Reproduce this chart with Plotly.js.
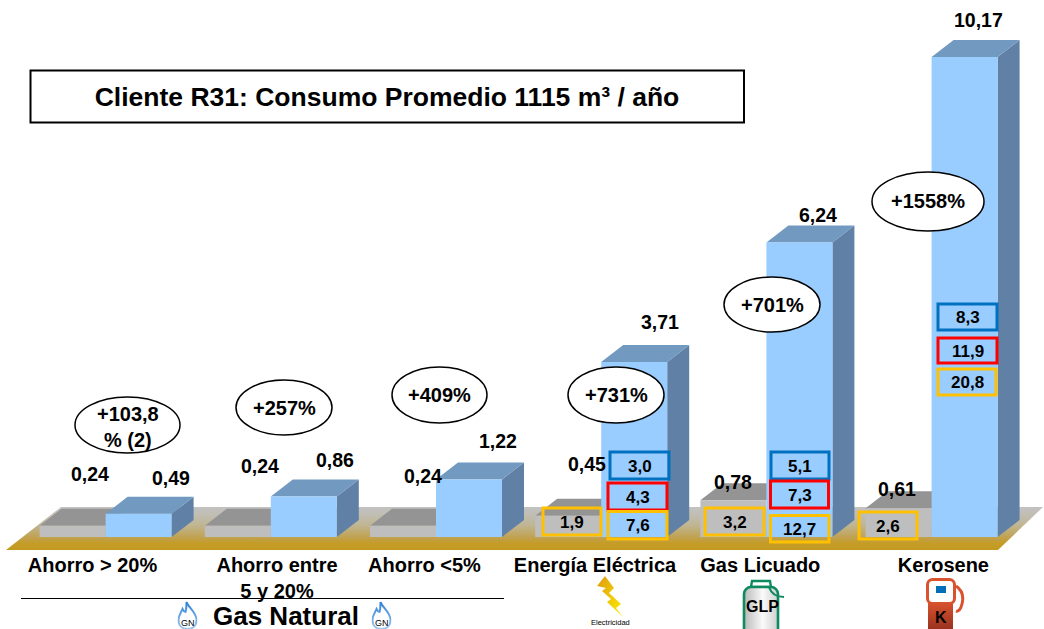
<!DOCTYPE html>
<html><head><meta charset="utf-8">
<script src="https://cdn.plot.ly/plotly-3.0.1.min.js"></script>
<style>html,body{margin:0;padding:0;background:#fff}#c{width:1044px;height:629px}</style>
</head><body><div id="c"></div>
<script>
// ---------- data ----------
const categories = ['Ahorro > 20%','Ahorro entre<br>5 y 20%','Ahorro <5%','Energía Eléctrica','Gas Licuado','Kerosene'];
const greyValues = [0.24,0.24,0.24,0.45,0.78,0.61];
const blueValues = [0.49,0.86,1.22,3.71,6.24,10.17];
const increases  = ['+103,8<br>% (2)','+257%','+409%','+731%','+701%','+1558%'];
const boxValues  = ['3,0','4,3','7,6','1,9','3,2','5,1','7,3','12,7','2,6','8,3','11,9','20,8'];
const boxKinds   = ['b','r','g','g','g','b','r','g','g','b','r','g'];

// ---------- layout geometry (page pixels) ----------
const W=1044,H=629,plotBottom=550,baseY=537,pxPerUnit=47.2,firstX=105.6,pitch=165.2;
const depthX=22/pitch, depthY=17/pxPerUnit, barW=66/pitch;
const val=py=>(baseY-py)/pxPerUnit, idx=px=>(px-firstX)/pitch;
const PX=px=>px/W, PY=py=>(plotBottom-py)/plotBottom;
const font='"Liberation Sans", Arial, sans-serif';
const indices=categories.map((_,i)=>i);
const tickCentersPx=[92.5,277,424.5,595,760.3,943.4];
const greyLabelPx=[[90,474],[260,466],[423,476],[587,464],[733,482],[897,489]];
const blueLabelPx=[[171,478],[335,460],[498,441],[660,322],[818,215],[978,20]];
const ellipsePx=[[75,180,397,453],[236,332,380,435],[392,487,367,423],[568,664,367,423],[724,820,277,332],[872,984,172,231]];
const ellipseTextShift=[2,0,0,0,0,0];
const boxPx=[[610,669,452,479],[608,667,483,510],[608,667,511.5,539],[543,601,508,535],[705,764,508,535],
             [771,829,452,479],[770.5,828.5,481,508],[770.5,829,515.5,542],[859,917,512,539],
             [938,997,304,330],[938,997,338,363],[938,996,369,395]];
const boxColor={b:'#0070C0',r:'#FF0000',g:'#FFC000'};

// depth faces derived from the values through the axis scale
function face(vals,off,kind){
  const xs=[],ys=[];
  vals.forEach((v,i)=>{
    const x0=i+off,x1=x0+barW;
    if(kind==='top'){xs.push(x0,x0+depthX,x1+depthX,x1,x0,null);ys.push(v,v+depthY,v+depthY,v,v,null);}
    else{xs.push(x1,x1+depthX,x1+depthX,x1,x1,null);ys.push(0,depthY,v+depthY,v,0,null);}
  });
  return {x:xs,y:ys};
}
const poly=(f,color,z)=>({type:'scatter',mode:'none',x:f.x,y:f.y,fill:'toself',fillcolor:color,hoverinfo:'skip',showlegend:false,zorder:z});
const bar=(vals,off,color,z,name)=>({type:'bar',name,x:indices,y:vals,width:barW,offset:off,marker:{color,line:{width:0}},hoverinfo:'x+y',showlegend:false,zorder:z});

const floorTrace={type:'scatter',mode:'none',hoverinfo:'skip',showlegend:false,zorder:0,
  x:[idx(6),idx(998),idx(1043),idx(61),idx(6)],
  y:[val(550),val(550),val(507),val(507),val(550)],
  fill:'toself',
  fillgradient:{type:'vertical',colorscale:[[0,'#C39A1F'],[0.16,'#C49C28'],[0.3,'#C0A252'],[0.58,'#C0B693'],[0.81,'#C0BDB2'],[1,'#C2C2C2']]}};

const traces=[
  floorTrace,
  poly(face(greyValues,-barW,'top'),'#949494',1),
  bar(greyValues,-barW,'#BEBEBE',2,'grey'),
  poly(face(blueValues,0,'side'),'#6180A5',3),
  poly(face(blueValues,0,'top'),'#7299C0',3),
  bar(blueValues,0,'#99CCFF',4,'blue')
];

// ---------- annotations and shapes ----------
const bold=(size)=>({family:font,size,color:'#000'});
const note=(text,px,py,size,extra)=>Object.assign({text,x:PX(px),y:PY(py),xref:'paper',yref:'paper',xanchor:'center',yanchor:'middle',showarrow:false,font:bold(size)},extra||{});
const B=t=>'<b>'+t+'</b>';
const fmt=(v)=>v.toFixed(2).replace('.',',');
const annotations=[];
greyValues.forEach((v,i)=>annotations.push(note(B(fmt(v)),greyLabelPx[i][0],greyLabelPx[i][1],19.5)));
blueValues.forEach((v,i)=>annotations.push(note(B(fmt(v)),blueLabelPx[i][0],blueLabelPx[i][1],19.5)));
increases.forEach((t,i)=>{const e=ellipsePx[i];
  annotations.push(note(t.split('<br>').map(B).join('<br>'),(e[0]+e[1])/2,(e[2]+e[3])/2+ellipseTextShift[i],20));});
boxValues.forEach((t,i)=>{const b=boxPx[i];annotations.push(note(B(t),(b[0]+b[1])/2,(b[2]+b[3])/2+0.5,17));});
annotations.push(note(B('Gas Natural'),285.5,615.5,26));
annotations.push(note('GN',187.5,623,9),note('GN',381.5,623,9));
annotations.push(note('Electricidad',610,622.5,7.5));
annotations.push(note(B('GLP'),762,607,16),note(B('K'),940.5,617,16));

const shapes=[
  {type:'rect',xref:'paper',yref:'paper',x0:PX(30.5),x1:PX(744),y0:PY(70.5),y1:PY(122.5),line:{color:'#000',width:2},fillcolor:'#fff'},
  {type:'line',xref:'paper',yref:'paper',x0:PX(21),x1:PX(504),y0:PY(598.5),y1:PY(598.5),line:{color:'#000',width:1}}
];
ellipsePx.forEach(e=>shapes.push({type:'circle',xref:'paper',yref:'paper',x0:PX(e[0]),x1:PX(e[1]),y0:PY(e[2]),y1:PY(e[3]),line:{color:'#000',width:1.5},fillcolor:'#fff'}));
boxPx.forEach((b,i)=>shapes.push({type:'rect',xref:'paper',yref:'paper',x0:PX(b[0]),x1:PX(b[1]),y0:PY(b[2]),y1:PY(b[3]),line:{color:boxColor[boxKinds[i]],width:3},fillcolor:'rgba(0,0,0,0)'}));

// ---------- icons (text on them stays real text above) ----------
const svg=(w,h,body)=>'data:image/svg+xml;charset=utf-8,'+encodeURIComponent('<svg xmlns="http://www.w3.org/2000/svg" width="'+w+'" height="'+h+'" viewBox="0 0 '+w+' '+h+'">'+body+'</svg>');
const flame=svg(20,28,'<defs><linearGradient id="f" x1="0" y1="0" x2="0" y2="1"><stop offset="0" stop-color="#2F80D6"/><stop offset="1" stop-color="#9CC8F0"/></linearGradient></defs><path d="M9 1 C11 7 19 11 19 19 C19 25 15 28 10 28 C5 28 1 25 1 19 C1 14 4 11 5 8 C6 10 7 11 8 11 C9 8 9 4 9 1 Z" fill="#fff" stroke="url(#f)" stroke-width="2"/>');
const bolt=svg(40,50,'<defs><linearGradient id="l" x1="0" y1="0" x2="1" y2="1"><stop offset="0" stop-color="#DE9A10"/><stop offset="1" stop-color="#FFF000"/></linearGradient></defs><path d="M0 10 L8 0 L17 12 L12 17 L24 28 L19 32 L26 41 L10 26 L14 23 L5 15 L9 12 Z" fill="url(#l)"/>');
const glp=svg(44,54,'<defs><linearGradient id="g" x1="0" y1="0" x2="1" y2="0"><stop offset="0" stop-color="#B8B8B8"/><stop offset="0.55" stop-color="#FAFAFA"/><stop offset="1" stop-color="#CFCFCF"/></linearGradient></defs><path d="M10 3 H28 L29 9 H9 Z" fill="#fff" stroke="#0E8A60" stroke-width="2.4"/><rect x="2" y="9" width="34" height="50" rx="7" fill="url(#g)" stroke="#0E8A60" stroke-width="2.6"/><path d="M27 9 C29 15 34 19 42 19" fill="none" stroke="#0E8A60" stroke-width="2.2"/>');
const pump=svg(40,54,'<defs><linearGradient id="p" x1="0" y1="0" x2="0" y2="1"><stop offset="0" stop-color="#D9532F"/><stop offset="1" stop-color="#8E2C1B"/></linearGradient></defs><path d="M30 8 C36 12 38 18 36 26 C35 30 33 34 30 33" fill="none" stroke="#D9532F" stroke-width="3"/><rect x="1.5" y="1.5" width="27" height="24" rx="5" fill="#fff" stroke="#D9532F" stroke-width="3"/><rect x="2" y="24" width="25" height="32" fill="url(#p)"/><rect x="10" y="8" width="10" height="7" fill="#0070B8"/>');
const img=(source,x,y,w,h)=>({source,xref:'paper',yref:'paper',x:PX(x),y:PY(y),sizex:w/W,sizey:h/plotBottom,xanchor:'left',yanchor:'top',sizing:'stretch',layer:'above'});
const images=[img(flame,177.5,601,20,28),img(flame,371.5,601,20,28),img(bolt,597,576,40,50),img(glp,742,578,44,54),img(pump,926,578,40,54)];

const layout={
  width:W,height:H,margin:{l:0,r:0,t:0,b:H-plotBottom,pad:0},
  paper_bgcolor:'#fff',plot_bgcolor:'rgba(0,0,0,0)',barmode:'overlay',showlegend:false,
  title:{text:'<b>Cliente R31: Consumo Promedio 1115 m³ / año</b>',x:387/W,xanchor:'center',xref:'container',y:1-96.5/H,yref:'container',yanchor:'middle',font:bold(26.5)},
  xaxis:{range:[idx(0),idx(W)],tickvals:tickCentersPx.map(idx),ticktext:categories.map(B),tickfont:bold(20),ticklen:0,ticklabelstandoff:1,
         showgrid:false,zeroline:false,showline:false,fixedrange:true},
  yaxis:{range:[val(plotBottom),val(0)],visible:false,showgrid:false,zeroline:false,fixedrange:true},
  shapes,annotations,images
};
Plotly.newPlot('c',traces,layout,{displayModeBar:false,staticPlot:true});
</script></body></html>
